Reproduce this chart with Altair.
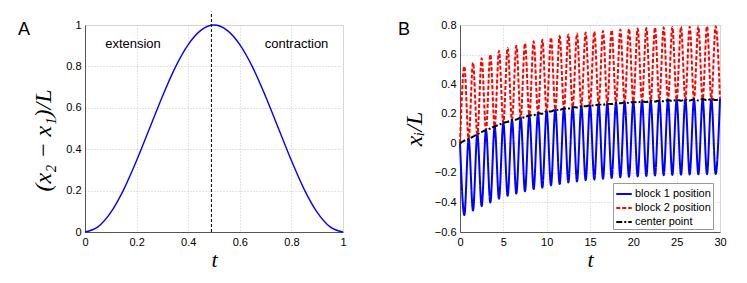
import altair as alt
import pandas as pd

# ---------- Panel A data ----------
tA = [0, 0.05, 0.1, 0.15, 0.2, 0.25, 0.3, 0.35, 0.4, 0.45, 0.5,
      0.55, 0.6, 0.65, 0.7, 0.75, 0.8, 0.85, 0.9, 0.95, 1.0]
sA = [0, 0.025, 0.095, 0.205, 0.345, 0.5, 0.655, 0.795, 0.905, 0.975, 1.0,
      0.975, 0.905, 0.795, 0.655, 0.5, 0.345, 0.205, 0.095, 0.025, 0]
xticksA = [0, 0.2, 0.4, 0.6, 0.8, 1]
yticksA = [0, 0.2, 0.4, 0.6, 0.8, 1]
split_t = [0.49]
phase_labels = ["extension", "contraction"]
phase_t = [0.186, 0.82]
phase_y = [0.91, 0.91]

# ---------- Panel B data ----------
# center point at integer times t = 0..30
center = [0, 0.03, 0.062, 0.09, 0.115, 0.138, 0.157, 0.174, 0.19, 0.204, 0.216,
          0.227, 0.236, 0.244, 0.251, 0.257, 0.263, 0.268, 0.273, 0.277, 0.281,
          0.284, 0.287, 0.29, 0.292, 0.294, 0.296, 0.298, 0.299, 0.3, 0.301]
# block 2 maxima at half-integer times 0.5 .. 29.5
red_max = [0.52, 0.545, 0.575, 0.60, 0.625, 0.645, 0.66, 0.675, 0.69, 0.70,
           0.715, 0.725, 0.735, 0.742, 0.75, 0.755, 0.76, 0.765, 0.77, 0.773,
           0.776, 0.779, 0.782, 0.784, 0.786, 0.788, 0.789, 0.79, 0.791, 0.792]
# block 1 minima at half-integer times 0.5 .. 29.5
blue_min = [-0.485, -0.455, -0.425, -0.40, -0.375, -0.355, -0.34, -0.325, -0.31, -0.30,
            -0.285, -0.275, -0.265, -0.258, -0.25, -0.245, -0.24, -0.235, -0.23, -0.227,
            -0.224, -0.221, -0.218, -0.216, -0.214, -0.212, -0.211, -0.21, -0.209, -0.208]
xticksB = [0, 5, 10, 15, 20, 25, 30]
yticksB = [-0.6, -0.4, -0.2, 0, 0.2, 0.4, 0.6, 0.8]
series = ["block 1 position", "block 2 position", "center point"]
colors = ["#0000ff", "#ff0000", "#000000"]
dashes = [[1, 0], [4, 2], [6, 2, 2, 2]]

# ---------- build tables ----------
dfA = pd.DataFrame({"t": tA, "s": sA})
dfRule = pd.DataFrame({"t": split_t, "y0": [0], "y1": [1.065]})
dfText = pd.DataFrame({"t": phase_t, "y": phase_y, "label": phase_labels})

rows = []
for k in range(len(center)):
    for s in series:
        rows.append({"t": float(k), "v": center[k], "series": s, "o": 2 * k})
    if k < len(red_max):
        rows.append({"t": k + 0.5, "v": blue_min[k], "series": series[0], "o": 2 * k + 1})
        rows.append({"t": k + 0.5, "v": red_max[k], "series": series[1], "o": 2 * k + 1})
        rows.append({"t": k + 0.5, "v": (blue_min[k] + red_max[k]) / 2, "series": series[2], "o": 2 * k + 1})
dfB = pd.DataFrame(rows)

tick_font = "Liberation Sans"
title_font = "Liberation Serif"

def axis(vals, title, ttl_pad=4, ttl_size=24, **extra):
    kw = dict(values=vals, title=title, grid=True, gridDash=[1, 2], gridColor="#c8c8c8",
              ticks=False, labelPadding=4, labelFont=tick_font, labelFontSize=11,
              labelColor="black", domainColor="#555555", titleFont=title_font,
              titleFontStyle="italic", titleFontWeight="normal", titleFontSize=ttl_size,
              titleColor="black", titlePadding=ttl_pad, labelFlush=False, format="~g")
    kw.update(extra)
    return alt.Axis(**kw)

W_A, W_B, H = 258, 260, 207

# ---------- Panel A ----------
xA = alt.X("t:Q", scale=alt.Scale(domain=[0, 1], nice=False),
           axis=axis(xticksA, "t", ttl_pad=2, ttl_size=22))
yA = alt.Y("s:Q", scale=alt.Scale(domain=[0, 1], nice=False),
           axis=axis(yticksA, "(x₂ − x₁)/L", ttl_pad=10, titleY=115))

curveA = alt.Chart(dfA).mark_line(color="#0000ff", strokeWidth=1.4, interpolate="monotone").encode(x=xA, y=yA)
ruleA = alt.Chart(dfRule).mark_rule(color="black", strokeDash=[3, 2], strokeWidth=1).encode(
    x="t:Q", y="y0:Q", y2="y1:Q")
textA = alt.Chart(dfText).mark_text(font=tick_font, fontSize=13, color="black").encode(
    x="t:Q", y="y:Q", text="label:N")
letterA = alt.Chart(pd.DataFrame({"l": ["A"]})).mark_text(
    font=tick_font, fontSize=18, align="left", baseline="middle", color="black").encode(
    x=alt.value(-67), y=alt.value(5), text="l:N")

panelA = alt.layer(curveA, ruleA, textA, letterA).properties(width=W_A, height=H)

# ---------- Panel B ----------
xB = alt.X("t:Q", scale=alt.Scale(domain=[0, 30], nice=False),
           axis=axis(xticksB, "t", ttl_pad=2, ttl_size=22))
yB = alt.Y("v:Q", scale=alt.Scale(domain=[-0.6, 0.8], nice=False),
           axis=axis(yticksB, "xᵢ/L", ttl_pad=8))

leg = dict(title=None, orient="none", legendX=528, legendY=158,
           symbolType="stroke", symbolSize=240, symbolStrokeWidth=2,
           labelFont=tick_font, labelFontSize=11, labelColor="black",
           strokeColor="#999999", fillColor="white", padding=2,
           rowPadding=0, labelOffset=2)

linesB = alt.Chart(dfB).mark_line(strokeWidth=2, interpolate="monotone").encode(
    x=xB, y=yB, order="o:Q",
    color=alt.Color("series:N", scale=alt.Scale(domain=series, range=colors),
                    legend=alt.Legend(**leg)),
    strokeDash=alt.StrokeDash("series:N", scale=alt.Scale(domain=series, range=dashes),
                              legend=alt.Legend(**leg)),
)
letterB = alt.Chart(pd.DataFrame({"l": ["B"]})).mark_text(
    font=tick_font, fontSize=18, align="left", baseline="middle", color="black").encode(
    x=alt.value(-62), y=alt.value(5), text="l:N")

panelB = alt.layer(linesB, letterB).properties(width=W_B, height=H)

chart = alt.hconcat(panelA, panelB, spacing=117, bounds="flush").properties(
    padding={"left": 9, "top": 2, "right": 0, "bottom": 0}
).configure_view(stroke=None).configure(background="white")

chart.save("out.html", embed_options={"renderer": "svg", "actions": False})
